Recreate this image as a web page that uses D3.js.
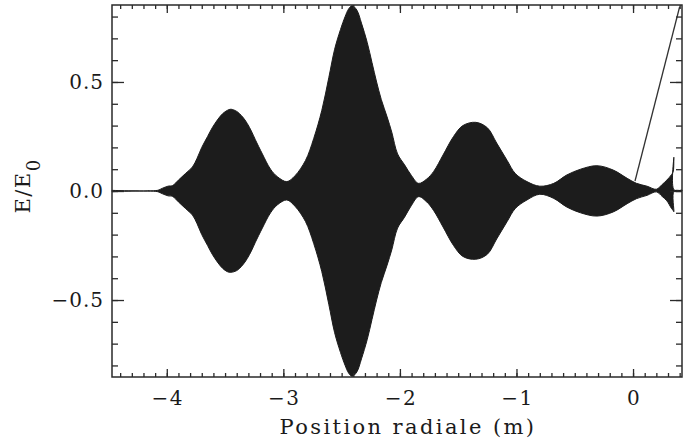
<!DOCTYPE html>
<html>
<head>
<meta charset="utf-8">
<script src="https://cdn.jsdelivr.net/npm/d3@7"></script>
<style>
  body { margin: 0; background: #fff; }
  svg { display: block; }
  text { font-family: "DejaVu Serif", serif; fill: #1a1a1a; }
</style>
</head>
<body>
<svg width="684" height="443"></svg>
<script>
// envelope of the field
var posX = [-4.47, -4.08, -4.04, -3.99, -3.95, -3.90, -3.84, -3.78, -3.74, -3.70, -3.65, -3.61, -3.56, -3.52, -3.48, -3.45,
    -3.40, -3.35, -3.31, -3.27, -3.24, -3.18, -3.11, -3.05, -2.97, -2.90, -2.81, -2.74, -2.67, -2.61, -2.56, -2.51,
    -2.47, -2.44, -2.41, -2.37, -2.33, -2.28, -2.24, -2.20, -2.16, -2.11, -2.07, -2.02, -1.96, -1.90, -1.84, -1.77,
    -1.71, -1.63, -1.54, -1.46, -1.35, -1.25, -1.17, -1.08, -1.01, -0.91, -0.80, -0.68, -0.57, -0.45, -0.31, -0.17,
    -0.05, 0.03, 0.12, 0.20, 0.25, 0.29, 0.33, 0.345, 0.35, 0.352, 0.42];
var upper = [0.003, 0.003, 0.012, 0.022, 0.025, 0.05, 0.08, 0.11, 0.15, 0.20, 0.25, 0.29, 0.33, 0.355, 0.37, 0.375,
    0.365, 0.34, 0.31, 0.27, 0.235, 0.17, 0.10, 0.065, 0.043, 0.07, 0.14, 0.24, 0.37, 0.52, 0.65, 0.74,
    0.80, 0.835, 0.85, 0.83, 0.77, 0.68, 0.59, 0.50, 0.42, 0.34, 0.27, 0.17, 0.12, 0.07, 0.035, 0.055,
    0.09, 0.165, 0.25, 0.30, 0.315, 0.29, 0.22, 0.14, 0.08, 0.043, 0.022, 0.035, 0.073, 0.10, 0.116, 0.096,
    0.058, 0.035, 0.022, 0.008, 0.03, 0.05, 0.075, 0.09, 0.155, 0.005, 0.005];
var lower = [-0.003, -0.003, -0.012, -0.022, -0.025, -0.05, -0.08, -0.11, -0.15, -0.20, -0.25, -0.29, -0.33, -0.355, -0.37, -0.373,
    -0.365, -0.34, -0.31, -0.27, -0.235, -0.17, -0.10, -0.063, -0.041, -0.07, -0.14, -0.24, -0.37, -0.52, -0.65, -0.74,
    -0.80, -0.835, -0.85, -0.83, -0.77, -0.68, -0.59, -0.50, -0.42, -0.34, -0.27, -0.17, -0.12, -0.065, -0.026, -0.05,
    -0.09, -0.165, -0.25, -0.30, -0.313, -0.29, -0.22, -0.14, -0.08, -0.041, -0.015, -0.034, -0.073, -0.10, -0.115, -0.096,
    -0.058, -0.035, -0.02, -0.004, -0.025, -0.045, -0.08, -0.09, -0.095, 0.0, 0.0];

// stray straight line at the right end
var strayX = [0.017, 0.40];
var strayY = [0.046, 0.845];

var xMajor = [-4, -3, -2, -1, 0];
var xTickLabels = ["\u22124", "\u22123", "\u22122", "\u22121", "0"];
var yMajor = [-0.5, 0, 0.5];
var yTickLabels = ["\u22120.5", "0.0", "0.5"];

var svg = d3.select("svg");
var plotLeft = 112, plotRight = 682, plotTop = 5, plotBottom = 377;

var x = d3.scaleLinear().domain([-4.47, 0.42]).range([plotLeft, plotRight]);
var y = d3.scaleLinear().domain([-0.853, 0.853]).range([plotBottom, plotTop]);

var xMinor = d3.range(-44, 5).map(function (d) { return d / 10; });
var yMinor = d3.range(-8, 9).map(function (d) { return d / 10; });

var data = posX.map(function (d, i) {
    return { x: d, hi: upper[i], lo: lower[i] };
});

var area = d3.area()
    .x(function (d) { return x(d.x); })
    .y0(function (d) { return y(d.lo); })
    .y1(function (d) { return y(d.hi); })
    .curve(d3.curveCatmullRom.alpha(0.5));

svg.append("path")
    .datum(data)
    .attr("d", area)
    .attr("fill", "#1c1c1c")
    .attr("stroke", "#1c1c1c")
    .attr("stroke-width", 1);

svg.append("path")
    .datum(strayX.map(function (d, i) { return [d, strayY[i]]; }))
    .attr("d", d3.line().x(function (d) { return x(d[0]); }).y(function (d) { return y(d[1]); }))
    .attr("fill", "none")
    .attr("stroke", "#333")
    .attr("stroke-width", 1.3);

// axes, ticks pointing inward on all four sides
function drawAxis(axis, transform) {
    var g = svg.append("g").attr("transform", transform).call(axis);
    g.select(".domain").remove();
    g.selectAll("line").attr("stroke", "#2a2a2a").attr("stroke-width", 1.3);
    g.selectAll("text").remove();
    return g;
}

drawAxis(d3.axisBottom(x).tickValues(xMinor).tickSize(-4), "translate(0," + plotBottom + ")");
drawAxis(d3.axisBottom(x).tickValues(xMajor).tickSize(-8), "translate(0," + plotBottom + ")");
drawAxis(d3.axisTop(x).tickValues(xMinor).tickSize(-4), "translate(0," + plotTop + ")");
drawAxis(d3.axisTop(x).tickValues(xMajor).tickSize(-8), "translate(0," + plotTop + ")");
drawAxis(d3.axisLeft(y).tickValues(yMinor).tickSize(-6), "translate(" + plotLeft + ",0)");
drawAxis(d3.axisLeft(y).tickValues(yMajor).tickSize(-12), "translate(" + plotLeft + ",0)");
drawAxis(d3.axisRight(y).tickValues(yMinor).tickSize(-6), "translate(" + plotRight + ",0)");
drawAxis(d3.axisRight(y).tickValues(yMajor).tickSize(-12), "translate(" + plotRight + ",0)");

svg.append("rect")
    .attr("x", plotLeft).attr("y", plotTop)
    .attr("width", plotRight - plotLeft).attr("height", plotBottom - plotTop)
    .attr("fill", "none")
    .attr("stroke", "#2a2a2a")
    .attr("stroke-width", 1.5);

// tick labels
svg.append("g").selectAll("text")
    .data(xMajor)
    .enter().append("text")
    .attr("x", function (d) { return x(d) + 1; })
    .attr("y", 405)
    .attr("text-anchor", "middle")
    .style("font-size", "20px")
    .style("letter-spacing", "1.5px")
    .text(function (d, i) { return xTickLabels[i]; });

svg.append("g").selectAll("text")
    .data(yMajor)
    .enter().append("text")
    .attr("x", 104)
    .attr("y", function (d) { return y(d) + 7; })
    .attr("text-anchor", "end")
    .style("font-size", "20px")
    .style("letter-spacing", "1px")
    .text(function (d, i) { return yTickLabels[i]; });

// titles
svg.append("text")
    .attr("x", 408)
    .attr("y", 434)
    .attr("text-anchor", "middle")
    .style("font-size", "21px")
    .style("letter-spacing", "2.4px")
    .text("Position radiale (m)");

var yt = svg.append("text")
    .attr("transform", "translate(30,186) rotate(-90)")
    .attr("text-anchor", "middle")
    .style("font-size", "21px")
    .style("letter-spacing", "1.5px");
yt.append("tspan").text("E/E");
yt.append("tspan").attr("dy", 10).style("font-size", "18px").text("0");
</script>
</body>
</html>
